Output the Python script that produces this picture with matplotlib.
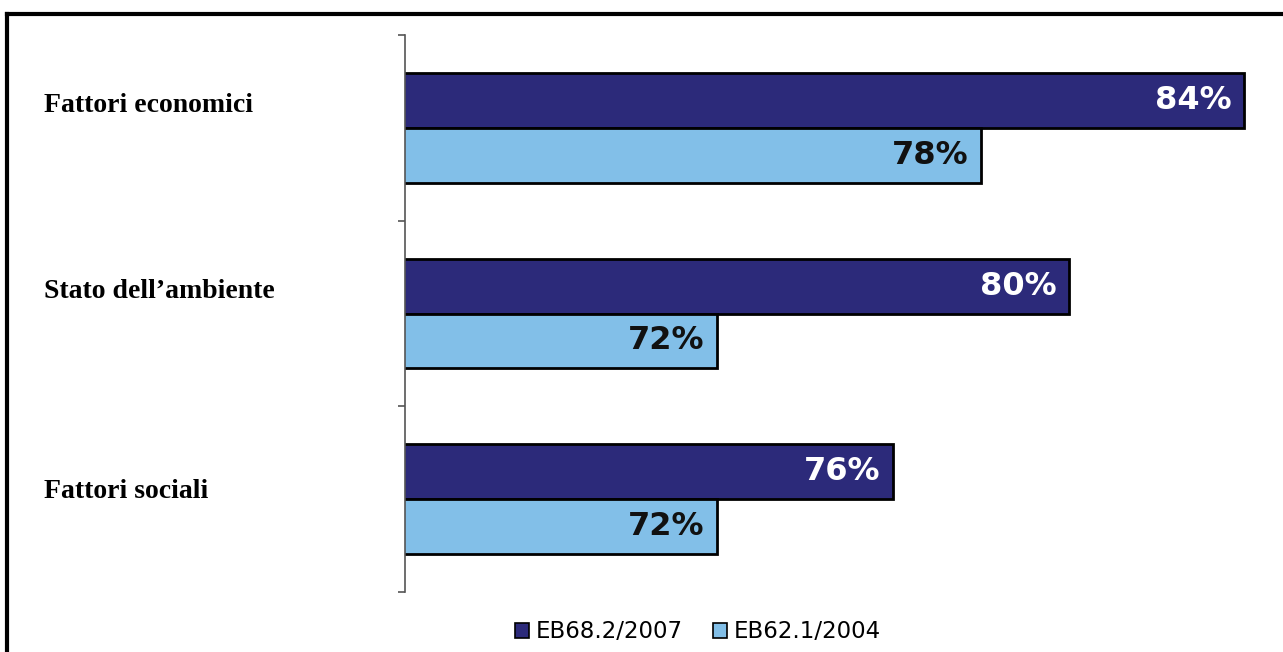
import matplotlib
matplotlib.use("Agg")
import matplotlib.pyplot as plt
from matplotlib.patches import Patch
from matplotlib.lines import Line2D
import numpy as np

# dati
categorie = ["Fattori economici", "Stato dell\u2019ambiente", "Fattori sociali"]
eb2007 = [84, 80, 76]
eb2004 = [78, 72, 72]
serie = ["EB68.2/2007", "EB62.1/2004"]

col_scuro = "#2c2a7a"
col_chiaro = "#82bfe8"

fig = plt.figure(figsize=(12.83, 6.52), dpi=100)
ax = fig.add_axes([405 / 1283, 1 - 592 / 652, (1262 - 405) / 1283, (592 - 35) / 652])

y = np.arange(len(categorie))
h = 0.295
ax.barh(y - h / 2, eb2007, height=h, left=0, color=col_scuro, edgecolor="black", linewidth=2)
ax.barh(y + h / 2, eb2004, height=h, left=0, color=col_chiaro, edgecolor="black", linewidth=2)

ax.set_xlim(64.9, 84.4)
ax.set_ylim(2.5, -0.5)

# etichette valori
for i in range(len(categorie)):
    ax.text(eb2007[i] - 0.28, y[i] - h / 2, "%d%%" % eb2007[i], color="white",
            fontsize=23, fontweight="bold", ha="right", va="center")
    ax.text(eb2004[i] - 0.28, y[i] + h / 2, "%d%%" % eb2004[i], color="#111111",
            fontsize=23, fontweight="bold", ha="right", va="center")

# etichette categorie (spostamento verticale rispetto al centro del gruppo)
spost = [-0.12, -0.12, -0.04]
trans = matplotlib.transforms.blended_transform_factory(fig.transFigure, ax.transData)
for i, c in enumerate(categorie):
    ax.text(44 / 1283, y[i] + spost[i], c, transform=trans, fontsize=20, fontweight="bold",
            family="Liberation Serif", ha="left", va="center")

# assi
for s in ["top", "right", "bottom"]:
    ax.spines[s].set_visible(False)
ax.spines["left"].set_color("#555555")
ax.spines["left"].set_linewidth(1.2)
ax.set_xticks([])
ax.set_yticks([-0.5, 0.5, 1.5, 2.5])
ax.set_yticklabels([])
ax.tick_params(axis="y", length=5, color="#555555", width=1.2)

# legenda
handles = [Patch(facecolor=col_scuro, edgecolor="black", linewidth=1.2),
           Patch(facecolor=col_chiaro, edgecolor="black", linewidth=1.2)]
fig.legend(handles, serie, loc="center", bbox_to_anchor=(698 / 1283, 1 - 632 / 652),
           ncol=2, frameon=False, fontsize=16.5, handlelength=0.6, handleheight=0.6,
           handletextpad=0.3, columnspacing=1.3)

# cornice
fig.add_artist(Line2D([7 / 1283, 1], [1 - 14 / 652, 1 - 14 / 652], color="black", linewidth=3,
                      transform=fig.transFigure))
fig.add_artist(Line2D([7 / 1283, 7 / 1283], [0, 1 - 14 / 652], color="black", linewidth=3,
                      transform=fig.transFigure))

fig.savefig("out.png", dpi=100)
